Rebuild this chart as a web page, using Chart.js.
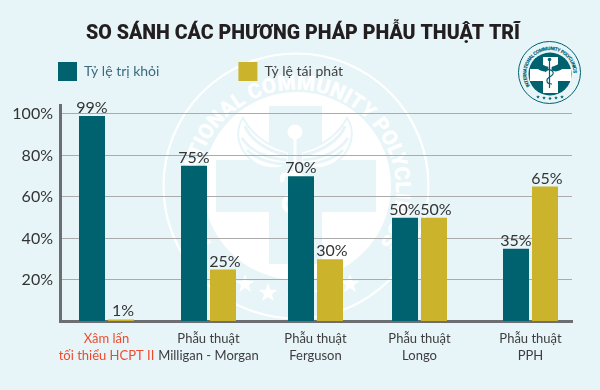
<!DOCTYPE html>
<html><head><meta charset="utf-8">
<style>
html,body{margin:0;padding:0;background:#e7f5f8;width:600px;height:390px;overflow:hidden}
#wrap{position:relative;width:600px;height:390px}
svg,canvas{position:absolute;left:0;top:0}
</style>
<script src="https://cdn.jsdelivr.net/npm/chart.js@4"></script>
</head><body>
<div id="wrap">
<svg width="600" height="390" viewBox="0 0 600 390" id="bg">
  <defs>
    <path id="ringW" d="M 214 247 A 100 100 0 1 1 378 247"/>
    <path id="ringL" d="M 530 86 A 23.5 23.5 0 1 1 570 86"/>
    <path id="star" d="M0-10 2.4-3.2 9.5-3.1 3.8 1.2 5.9 8.1 0 4 -5.9 8.1 -3.8 1.2 -9.5-3.1 -2.4-3.2z"/>
    <path id="wing" d="M-6 0C-14 -3-38-8-52-34C-60-22-58-6-46 6C-36 16-20 20-6 12z"/>
    <g id="feathers" fill="none">
      <path d="M-50-26C-44-10-24 0-8 3"/><path d="M-53-14C-44 0-26 7-8 8"/><path d="M-48-2C-38 8-22 12-8 12"/>
    </g>
  </defs>
  <g>
    <circle cx="296" cy="186" r="132.5" fill="none" stroke="#fff" stroke-width="2.2"/>
    <circle cx="297" cy="186" r="94" fill="#fff"/>
    <path d="M269 106h53v54h54v52h-54v52h-53v-52h-53v-52h53z" fill="#e7f5f8"/>
    <g fill="#fff" stroke="#e7f5f8" stroke-width="2">
      <use href="#wing" transform="translate(295 152)"/>
      <use href="#wing" transform="translate(295 152) scale(-1 1)"/>
    </g>
    <g stroke="#e7f5f8" stroke-width="3">
      <use href="#feathers" transform="translate(295 152)"/>
      <use href="#feathers" transform="translate(295 152) scale(-1 1)"/>
    </g>
    <circle cx="295" cy="132" r="7.5" fill="#fff"/>
    <path d="M295 138V182" stroke="#fff" stroke-width="3" fill="none"/>
    <path d="M283 182C276 168 310 172 306 186C303 196 284 192 284 204C284 210 290 212 295 212" stroke="#fff" stroke-width="4.5" fill="none"/>
    <text font-family="Roboto" font-weight="900" font-size="21" fill="#fff"><textPath href="#ringW" textLength="428" lengthAdjust="spacing" startOffset="4">INTERNATIONAL COMMUNITY POLYCLINICS</textPath></text>
    <g fill="#fff">
      <use href="#star" x="245" y="284"/><use href="#star" x="268" y="293"/>
      <use href="#star" x="296" y="297"/><use href="#star" x="323" y="293"/><use href="#star" x="350" y="284"/>
    </g>
  </g>
  <g>
    <circle cx="549.5" cy="72.5" r="31" fill="none" stroke="#00626f" stroke-width="1"/>
    <circle cx="550" cy="74" r="21.5" fill="#00626f"/>
    <path d="M543 57h15v12h13v12h-13v12h-15v-12h-13v-12h13z" fill="#fff"/>
    <use href="#wing" transform="translate(550 67) scale(.27)" fill="#00626f"/>
    <use href="#wing" transform="translate(550 67) scale(-.27 .27)" fill="#00626f"/>
    <circle cx="549.5" cy="59.5" r="1.8" fill="#00626f"/>
    <path d="M549.5 61V88" stroke="#00626f" stroke-width="1.2" fill="none"/>
    <path d="M546 72C543 68 555 69 553 74C551 78 546 77 547 81C547 84 551 84 552 84" stroke="#00626f" stroke-width="1.2" fill="none"/>
    <text font-family="Roboto" font-weight="900" font-size="5" fill="#00626f"><textPath href="#ringL" textLength="86" lengthAdjust="spacing">INTERNATIONAL COMMUNITY POLYCLINICS</textPath></text>
    <g fill="#00626f">
      <use href="#star" transform="translate(538 97) scale(.2)"/><use href="#star" transform="translate(544 98) scale(.2)"/>
      <use href="#star" transform="translate(550 98.5) scale(.2)"/><use href="#star" transform="translate(556 98) scale(.2)"/>
      <use href="#star" transform="translate(562 97) scale(.2)"/>
    </g>
  </g>
</svg>
<canvas id="c" width="600" height="390"></canvas>
</div>
<script>
const categories = [["Xâm lấn","tối thiểu HCPT II"],["Phẫu thuật","Milligan - Morgan"],["Phẫu thuật","Ferguson"],["Phẫu thuật","Longo"],["Phẫu thuật","PPH"]];
const curedRate = [99,75,70,50,35];
const recurrenceRate = [1,25,30,50,65];
const seriesNames = ["Tỷ lệ trị khỏi","Tỷ lệ tái phát"];
const chartTitle = "SO SÁNH CÁC PHƯƠNG PHÁP PHẪU THUẬT TRĨ";

const groupNudges = [-4.7,-5.1,-0.5,1.1,9.7];
const TEAL="#00626f", GOLD="#cbb42c", INK="#333333";
const FONT="Lato";

class NudgedCategory extends Chart.CategoryScale {
  static id='nudgedCategory';
  static defaults=Chart.CategoryScale.defaults;
  getPixelForValue(v,i){ return super.getPixelForValue(v,i)+(groupNudges[Math.round(v)]||0); }
}
Chart.register(NudgedCategory);

const placer={id:'placer',beforeDraw(chart){
  const l=chart.legend; const p=l.options.labels.padding;
  l.left=58-p; l.top=62-p;
  const t=chart.titleBlock; if(t){t.left=3; t.right=603;}
}};
const valueLabels={id:'valueLabels',afterDatasetsDraw(chart){
  const c=chart.ctx; c.save();
  c.font='16px '+FONT; c.fillStyle=INK; c.textAlign='center'; c.textBaseline='alphabetic';
  chart.data.datasets.forEach((d,di)=>{
    chart.getDatasetMeta(di).data.forEach((b,i)=>{ c.fillText(d.data[i]+'%',b.x+(di?2:0),b.y-3); });
  });
  c.restore();
}};

new Chart(document.getElementById('c'),{
  type:'bar',
  data:{labels:categories,datasets:[
    {label:seriesNames[0],data:curedRate,backgroundColor:TEAL},
    {label:seriesNames[1],data:recurrenceRate,backgroundColor:GOLD}
  ]},
  options:{
    responsive:false,animation:false,
    layout:{padding:{left:0,right:28,top:0,bottom:0}},
    categoryPercentage:0.5686,barPercentage:0.897,
    plugins:{
      title:{display:true,text:chartTitle,color:"#231f20",font:{family:"Roboto",size:19.6,weight:'900'},padding:{top:22,bottom:0}},
      legend:{position:'top',align:'start',maxHeight:60,
        labels:{boxWidth:19,boxHeight:19,padding:79,font:{family:FONT,size:14},
          generateLabels(){return seriesNames.map((n,i)=>({text:n,fillStyle:i?GOLD:TEAL,strokeStyle:'transparent',lineWidth:0,fontColor:i?"#414042":"#3a6b7c",datasetIndex:i,hidden:false}));}}},
      tooltip:{enabled:false}
    },
    scales:{
      x:{type:'nudgedCategory',
        grid:{display:false,drawTicks:false},
        border:{color:"#6d6e71",width:3},
        ticks:{autoSkip:false,maxRotation:0,padding:9,font:{family:FONT,size:13,lineHeight:1.3},
          color:c=>c.index===0?"#ef4a2e":"#3d3d3f"},
        afterFit(s){s.height=68.5;}
      },
      y:{min:0,max:104,
        grid:{color:"#ababab",lineWidth:1,drawTicks:false},
        border:{color:"#6d6e71",width:3},
        ticks:{stepSize:20,includeBounds:false,padding:7,font:{family:FONT,size:16},color:INK,
          callback:v=>v===0?'':v+'%'},
        afterFit(s){s.width=60;}
      }
    }
  },
  plugins:[placer,valueLabels]
});
</script>
</body></html>
